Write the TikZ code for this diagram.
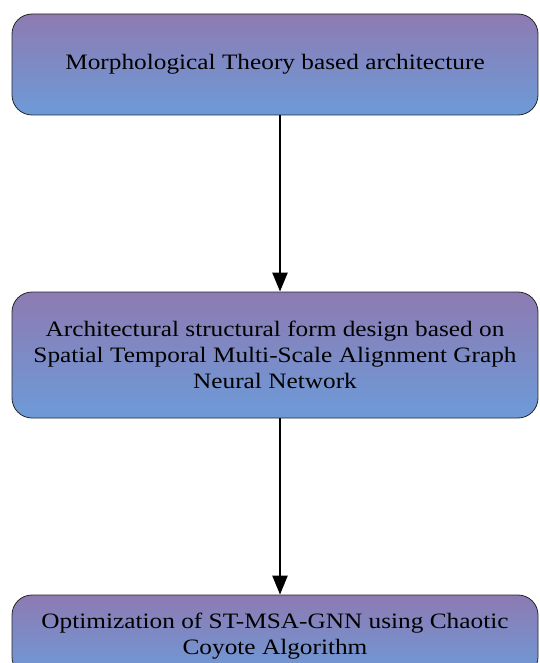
\documentclass[tikz,border=0pt]{standalone}
\usepackage{fontspec}
\setmainfont[FakeStretch = 1.15]{Liberation Serif}
\usetikzlibrary{arrows.meta, positioning}
\definecolor{boxtop}{RGB}{142,122,178}
\definecolor{boxbottom}{RGB}{108,155,216}
\tikzset{
    stage/.style = {draw = black!85, line width = 0.8pt, rounded corners = 20pt, top color = boxtop, bottom color = boxbottom, minimum width = 526pt, align = center, font = \fontsize{22}{26}\selectfont},
    flow/.style = {black, line width = 2.4pt, -{Triangle[width = 15pt, length = 19pt]}}
}

\begin{document}
\begin{tikzpicture}[x = 1pt, y = 1pt]
            \useasboundingbox (0, 0) rectangle (539, -663);
            \clip (0, 0) rectangle (539, -663);
            
            \node[stage, minimum height = 101pt] (morph) at (275, -64.5) {Morphological Theory based architecture};
            \node[stage, minimum height = 126pt] (design) at (275, -355) {Architectural structural form design based on \\ Spatial Temporal Multi-Scale Alignment Graph \\ Neural Network};
            \node[stage, minimum height = 82pt] (optim) at (275, -636) {Optimization of ST-MSA-GNN using Chaotic \\ Coyote Algorithm};
            
            \draw[flow] ([xshift = 5pt]morph.south) -- ([xshift = 5pt]design.north);
            \draw[flow] ([xshift = 5pt]design.south) -- ([xshift = 5pt]optim.north);
        \end{tikzpicture}
\end{document}
